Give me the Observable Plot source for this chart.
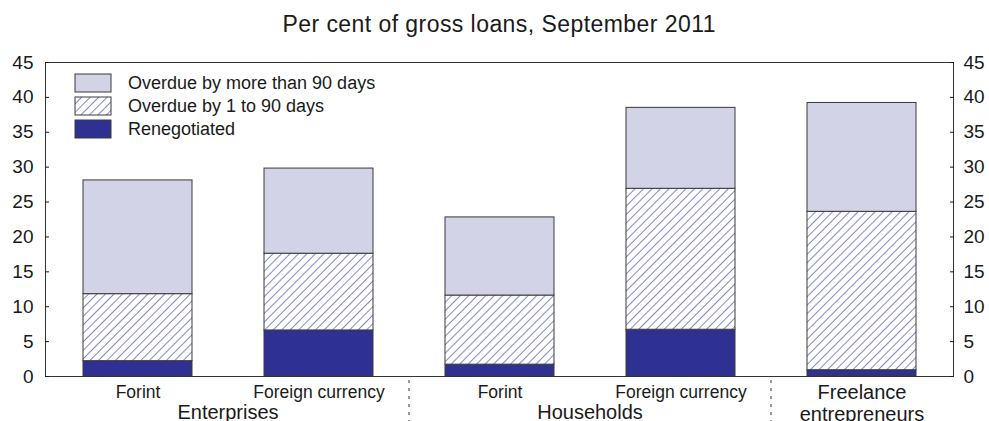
<!DOCTYPE html>
<html><head><meta charset="utf-8">
<script src="https://cdn.jsdelivr.net/npm/d3@7"></script>
<script src="https://cdn.jsdelivr.net/npm/@observablehq/plot@0.6"></script>
<style>body{margin:0;background:#fff;}</style>
</head><body><div id="chart"></div>
<script>
const title = "Per cent of gross loans, September 2011";
const keys = ["ent-huf", "ent-fx", "hh-huf", "hh-fx", "free"];
const tickLabels = ["Forint", "Foreign currency", "Forint", "Foreign currency", ""];
const groupLabels = ["Enterprises", "Households"];
const groupCenters = [["ent-huf", "ent-fx"], ["hh-huf", "hh-fx"]];
const freelanceLabel = "Freelance\nentrepreneurs";
const seriesNames = ["Renegotiated", "Overdue by 1 to 90 days", "Overdue by more than 90 days"];
const renegotiated = [2.2, 6.6, 1.7, 6.7, 0.9];
const overdue1to90 = [9.6, 11.0, 9.9, 20.2, 22.7];
const overdue90plus = [16.3, 12.2, 11.2, 11.6, 15.6];
const yTicks = [0, 5, 10, 15, 20, 25, 30, 35, 40, 45];

const navy = "#2e3192", lavender = "#d3d3e8", hatchColor = "#2f36a8";
const font = "'Liberation Sans', Arial, sans-serif";

const rows = [];
keys.forEach((k, i) => {
  rows.push({key: k, series: seriesNames[0], value: renegotiated[i]});
  rows.push({key: k, series: seriesNames[1], value: overdue1to90[i]});
  rows.push({key: k, series: seriesNames[2], value: overdue90plus[i]});
});
const labelOf = new Map(keys.map((k, i) => [k, tickLabels[i]]));

const chart = Plot.plot({
  width: 989, height: 421,
  marginLeft: 45, marginRight: 36, marginTop: 62, marginBottom: 45,
  style: {fontFamily: font, fontSize: "19px", color: "#1a1a1a", background: "#fff"},
  x: {domain: keys, paddingInner: 0.4, paddingOuter: 0.2, label: null},
  y: {domain: [0, 45], label: null},
  color: {domain: seriesNames, range: [navy, "url(#hatch)", lavender]},
  marks: [
    Plot.barY(rows, {x: "key", y: "value", fill: "series", stroke: "#3a3a3a", strokeWidth: 1}),
    Plot.frame({stroke: "#333"}),
    Plot.axisY({anchor: "left", ticks: yTicks, tickSize: -4, tickPadding: 16, fontSize: 19, label: null}),
    Plot.axisY({anchor: "right", ticks: yTicks, tickSize: -4, tickPadding: 14, fontSize: 19, label: null}),
    Plot.axisX({anchor: "bottom", tickSize: 0, tickPadding: 9, fontSize: 17.5, label: null, tickFormat: d => labelOf.get(d)}),
    Plot.text([keys[4]], {x: d => d, frameAnchor: "bottom", text: () => freelanceLabel, lineAnchor: "top", dy: 7, fontSize: 20, lineHeight: 1.1})
  ]
});

document.getElementById("chart").appendChild(chart);
const svg = d3.select(chart);
const defs = svg.insert("defs", ":first-child");
const pat = defs.append("pattern").attr("id", "hatch").attr("patternUnits", "userSpaceOnUse")
  .attr("width", 6).attr("height", 6).attr("patternTransform", "rotate(45)");
pat.append("rect").attr("width", 6).attr("height", 6).attr("fill", "#fff");
pat.append("line").attr("x1", 0).attr("y1", 0).attr("x2", 0).attr("y2", 6)
  .attr("stroke", hatchColor).attr("stroke-width", 1.2);

const xs = chart.scale("x");
const bw = xs.bandwidth;
const plotLeft = 45, plotRight = 989 - 36, plotBottom = 421 - 45;

// title
svg.append("text").attr("x", (plotLeft + plotRight) / 2).attr("y", 32).attr("text-anchor", "middle")
  .attr("font-family", font).attr("font-size", 23).attr("fill", "#1a1a1a")
  .attr("textLength", 433).attr("lengthAdjust", "spacing").text(title);

// group labels
groupCenters.forEach((pair, i) => {
  const cx = (xs.apply(pair[0]) + xs.apply(pair[1]) + bw) / 2;
  svg.append("text").attr("x", cx).attr("y", 419).attr("text-anchor", "middle")
    .attr("font-family", font).attr("font-size", 20).attr("fill", "#1a1a1a").text(groupLabels[i]);
});
// separators
[[keys[1], keys[2]], [keys[3], keys[4]]].forEach(([a, b]) => {
  const sx = (xs.apply(a) + bw + xs.apply(b)) / 2;
  svg.append("line").attr("x1", sx).attr("x2", sx).attr("y1", plotBottom + 4).attr("y2", 421)
    .attr("stroke", "#333").attr("stroke-width", 1).attr("stroke-dasharray", "3,5");
});

// legend
const colorOf = {"Renegotiated": navy, "Overdue by 1 to 90 days": "url(#hatch)", "Overdue by more than 90 days": lavender};
const legendOrder = [seriesNames[2], seriesNames[1], seriesNames[0]];
const lg = svg.append("g");
legendOrder.forEach((name, i) => {
  const y0 = 74 + i * 23;
  lg.append("rect").attr("x", 75).attr("y", y0).attr("width", 36).attr("height", 18)
    .attr("fill", colorOf[name]).attr("stroke", "#3a3a3a").attr("stroke-width", 1);
  lg.append("text").attr("x", 128).attr("y", y0 + 9 + 6).attr("text-anchor", "start")
    .attr("font-family", font).attr("font-size", 18).attr("fill", "#1a1a1a").text(name);
});
</script>
</body></html>
